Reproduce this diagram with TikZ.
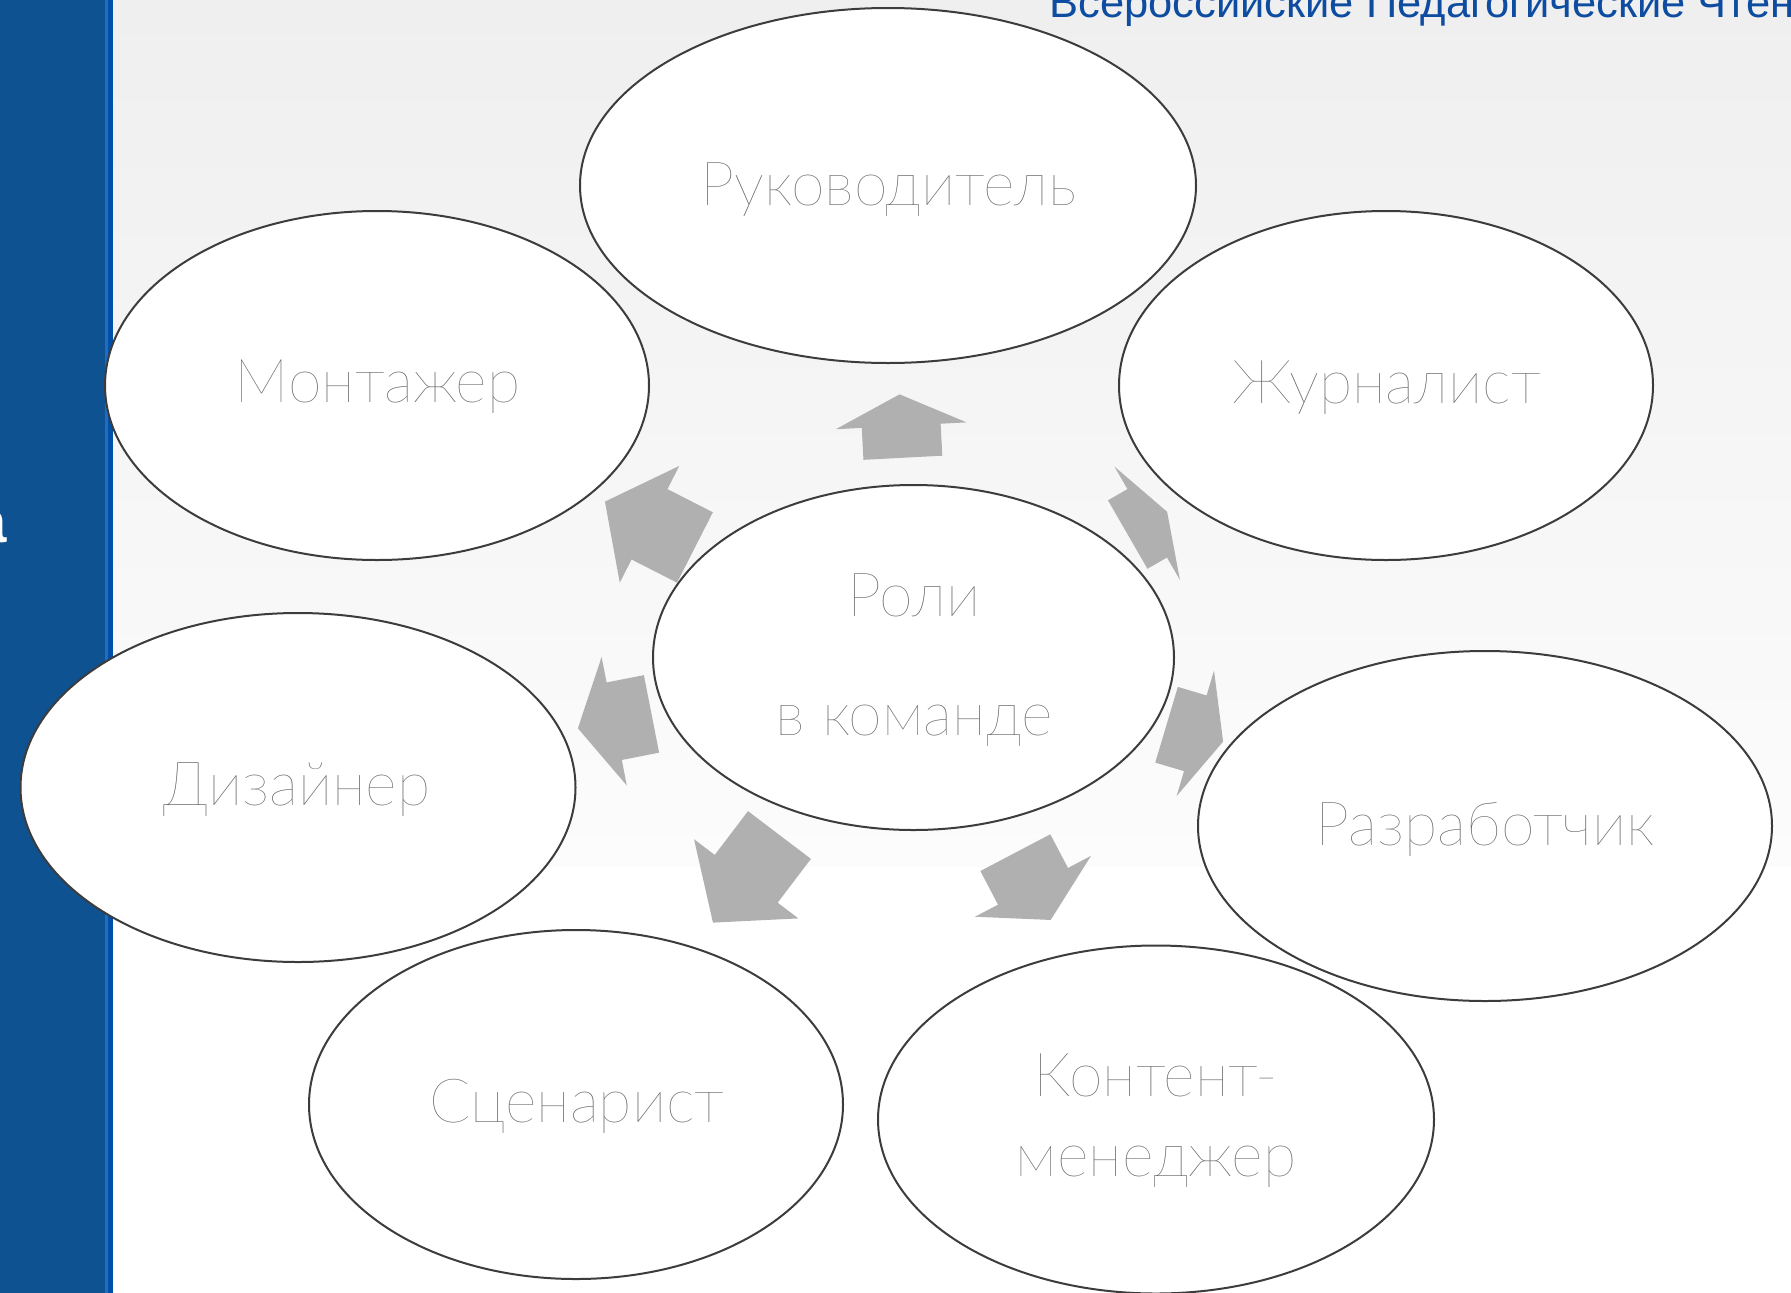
\documentclass[tikz,border=0pt]{standalone}
\usepackage{fontspec}
\setmainfont{Liberation Sans}
\newfontfamily\rolefont{Lato Hairline}
\usetikzlibrary{shapes.geometric}

\definecolor{barblue}{RGB}{14,82,145}
\definecolor{stripeblue}{RGB}{30,108,196}
\definecolor{stripedeep}{RGB}{0,80,166}
\definecolor{titleblue}{RGB}{13,76,160}
\definecolor{arrowgray}{RGB}{176,176,176}
\definecolor{rimgray}{RGB}{60,60,60}
\definecolor{textgray}{RGB}{95,95,95}
\definecolor{topgray}{RGB}{239,239,239}
\definecolor{lowgray}{RGB}{252,252,252}

\tikzset{every picture/.style={line width=0.75pt}}
\tikzset{
  role/.style={draw=rimgray, line width=2pt, fill=white, ellipse, inner sep=0pt},
  rolelabel/.style={text=textgray, font=\rolefont\fontsize{61}{66}\selectfont, anchor=base, inner sep=0pt},
  pics/blockarrow/.style 2 args={code={
    \fill[arrowgray] (-#2,-39.5) -- (0,-39.5) -- (0,-65.5) -- (#1,0) -- (0,65.5) -- (0,39.5) -- (-#2,39.5) -- cycle;}},
}

\begin{document}
\begin{tikzpicture}[x=1pt,y=1pt,yscale=-1,xscale=1]
\useasboundingbox (0,0) rectangle (1791,1293);

%Background
\shade[top color=topgray, bottom color=lowgray] (0,0) rectangle (1791,867);
\fill[white] (0,867) rectangle (1791,1293);
%Side bar
\fill[barblue] (0,0) rectangle (105,1293);
\fill[stripeblue] (105,0) rectangle (107.5,1293);
\fill[stripedeep] (107.5,0) rectangle (113,1293);

% Text Node
\node[anchor=base west, text=titleblue, font=\fontsize{43.5}{48}\selectfont, inner sep=0pt] (title) at (1049,17) {Всероссийские Педагогические Чтения};
% Text Node
\node[anchor=base east, text=white, font=\bfseries\fontsize{60}{60}\selectfont, inner sep=0pt] (sidea) at (7,542) {а};

%Block arrows
\pic[rotate=93] (toruk) at (901.2,425.8) {blockarrow={31.5}{32}};
\pic[rotate=-207] (tomont) at (649.5,524.3) {blockarrow={50}{51}};
\pic[rotate=30] (tozhur) at (1147.2,523.3) {blockarrow={23}{22.5}};
\pic[rotate=-16.6] (torazr) at (1195.3,733.3) {blockarrow={29}{30}};
\pic[rotate=-62.3] (tokont) at (1033,886.3) {blockarrow={38}{38}};
\pic[rotate=-127.2] (toscen) at (746.2,878.8) {blockarrow={55}{55}};
\pic[rotate=-168.9] (todiz) at (614.2,721.2) {blockarrow={37}{38}};

%Shape: Ellipse
\node[role, minimum width=616, minimum height=355] (ruk) at (888,185.5) {};
%Shape: Ellipse
\node[role, minimum width=544, minimum height=349] (mont) at (377,385.5) {};
%Shape: Ellipse
\node[role, minimum width=534, minimum height=349] (zhur) at (1386,385.5) {};
%Shape: Ellipse
\node[role, minimum width=521, minimum height=345] (roli) at (913.5,657.5) {};
%Shape: Ellipse
\node[role, minimum width=555, minimum height=349] (diz) at (298,787.5) {};
%Shape: Ellipse
\node[role, minimum width=574, minimum height=350] (razr) at (1485,826) {};
%Shape: Ellipse
\node[role, minimum width=534, minimum height=349] (scen) at (576,1104.5) {};
%Shape: Ellipse
\node[role, minimum width=556, minimum height=348] (kont) at (1156,1119.5) {};

% Text Node
\node[rolelabel] (t-ruk) at (888.6,205.6) {Руководитель};
% Text Node
\node[rolelabel] (t-mont) at (377.5,402) {Монтажер};
% Text Node
\node[rolelabel] (t-zhur) at (1386.6,403) {Журналист};
% Text Node
\node[rolelabel] (t-roli) at (914,616) {Роли};
% Text Node
\node[rolelabel] (t-komanda) at (914,735) {в команде};
% Text Node
\node[rolelabel] (t-diz) at (297,805) {Дизайнер};
% Text Node
\node[rolelabel] (t-razr) at (1485,845) {Разработчик};
% Text Node
\node[rolelabel] (t-scen) at (576.8,1122.8) {Сценарист};
% Text Node
\node[rolelabel] (t-kont) at (1156,1096.5) {Контент-};
% Text Node
\node[rolelabel] (t-men) at (1156,1176.5) {менеджер};

\end{tikzpicture}
\end{document}
